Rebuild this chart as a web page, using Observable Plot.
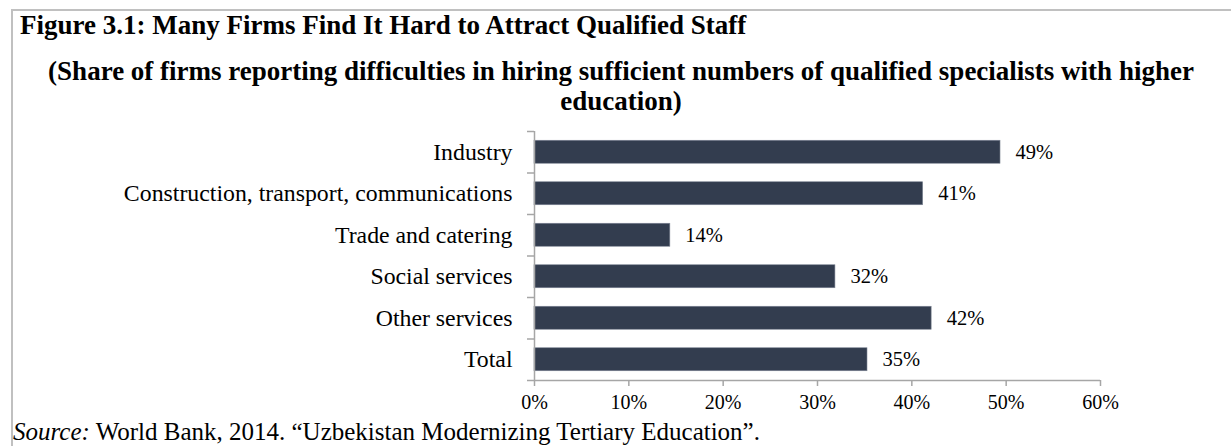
<!DOCTYPE html>
<html>
<head>
<meta charset="utf-8">
<script src="https://cdn.jsdelivr.net/npm/d3@7"></script>
<script src="https://cdn.jsdelivr.net/npm/@observablehq/plot@0.6"></script>
<style>
  html, body { margin: 0; padding: 0; background: #fff; }
  body { width: 1231px; height: 446px; position: relative; overflow: hidden; font-family: "Liberation Serif", "Times New Roman", serif; color: #000; }
  #frame { position: absolute; left: 11px; top: 9px; right: -5px; bottom: -5px; border-top: 2px solid #c0c0c0; border-left: 2px solid #c0c0c0; }
  #title { position: absolute; left: 20px; top: 10px; font-weight: bold; font-size: 27px; line-height: 1.15; white-space: nowrap; }
  .sub { position: absolute; font-weight: bold; font-size: 27px; line-height: 1.15; white-space: nowrap; transform: translateX(-50%); }
  #chart { position: absolute; left: 0; top: 120px; }
  #caption { position: absolute; left: 13px; top: 418px; font-size: 25px; line-height: 1.15; white-space: nowrap; }
</style>
</head>
<body>
<div id="frame"></div>
<div id="title">Figure 3.1: Many Firms Find It Hard to Attract Qualified Staff</div>
<div class="sub" style="left:621px; top:56px;">(Share of firms reporting difficulties in hiring sufficient numbers of qualified specialists with higher</div>
<div class="sub" style="left:621px; top:86px;">education)</div>
<div id="chart"></div>
<div id="caption"><i>Source:</i> World Bank, 2014. “Uzbekistan Modernizing Tertiary Education”.</div>
<script>
const categories = ["Industry", "Construction, transport, communications", "Trade and catering", "Social services", "Other services", "Total"];
const values = [49.4, 41.2, 14.4, 31.9, 42.1, 35.3];
const labels = ["49%", "41%", "14%", "32%", "42%", "35%"];
const xTicks = [0, 10, 20, 30, 40, 50, 60];

const data = categories.map((c, i) => ({category: c, idx: i, value: values[i], label: labels[i]}));
const half = 0.277;
const axisColor = "#a6a6a6";
const barColor = "#333d4f";

const chart = Plot.plot({
  width: 1231,
  height: 300,
  marginLeft: 534,
  marginRight: 131,
  marginTop: 11,
  marginBottom: 40,
  style: {fontFamily: "'Liberation Serif', 'Times New Roman', serif", fontSize: "20px", color: "#000", background: "transparent", overflow: "visible"},
  x: {domain: [0, 60], axis: null},
  y: {domain: [0, categories.length], reverse: true, axis: null},
  marks: [
    Plot.rectX(data, {x1: 0, x2: "value", y1: d => d.idx + 0.5 - half, y2: d => d.idx + 0.5 + half, fill: barColor, stroke: "#7d8594", strokeWidth: 0.6}),
    Plot.text(data, {x: "value", y: d => d.idx + 0.5, text: "label", textAnchor: "start", dx: 15, fontSize: 20.5, fill: "#000"}),
    Plot.axisY({ticks: d3.range(categories.length + 1), tickFormat: () => "", tickSize: 7, stroke: axisColor, strokeWidth: 1.5, label: null}),
    Plot.axisY({ticks: d3.range(categories.length).map(i => i + 0.5), tickFormat: v => categories[Math.floor(v)], tickSize: 0, tickPadding: 22, fontSize: 23.8, fill: "#000", label: null}),
    Plot.ruleX([0], {stroke: axisColor, strokeWidth: 1.5}),
    Plot.ruleY([categories.length], {stroke: axisColor, strokeWidth: 1.5}),
    Plot.axisX({ticks: xTicks, tickFormat: d => d + "%", tickSize: 6, tickPadding: 8, stroke: axisColor, strokeWidth: 1.5, fontSize: 20, fill: "#000", label: null})
  ]
});
document.getElementById("chart").appendChild(chart);
</script>
</body>
</html>
